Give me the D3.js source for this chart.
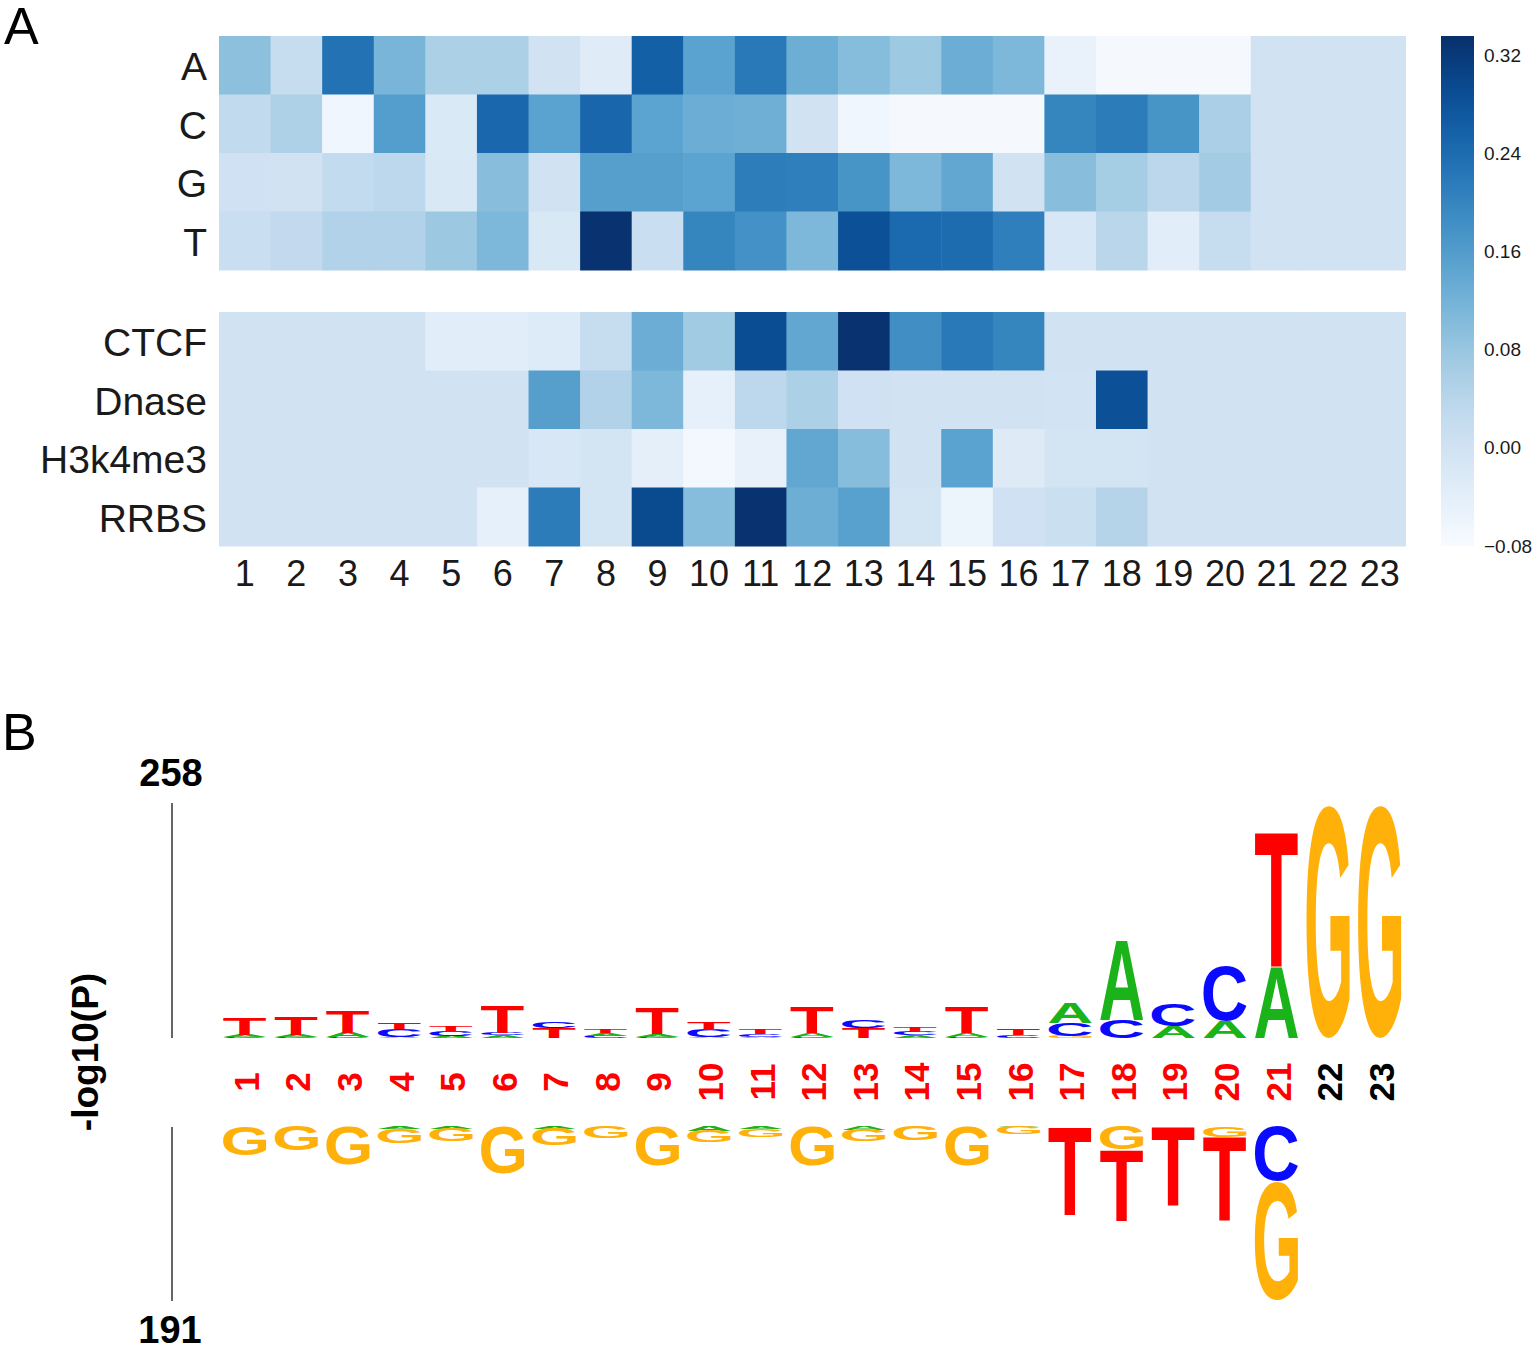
<!DOCTYPE html>
<html>
<head>
<meta charset="utf-8">
<script src="https://cdn.jsdelivr.net/npm/d3@7"></script>
<style>
    body { margin: 0; background: #fff; }
    svg text { font-family: "Liberation Sans", Arial, sans-serif; }
</style>
</head>
<body>
<svg id="chart"></svg>
<script>
    "use strict"
    const width = 1535;
    const height = 1351;

    // ---- panel A data ----
    const positions = d3.range(1, 24);
    const baseRows = ["A", "C", "G", "T"];
    const trackRows = ["CTCF", "Dnase", "H3k4me3", "RRBS"];

    const valsA = [0.094, 0.02, 0.23, 0.115, 0.057, 0.057, 0.0, -0.03, 0.26, 0.15, 0.22, 0.127, 0.1, 0.074, 0.13, 0.11, -0.05, -0.075, -0.075, -0.075, 0, 0, 0];
    const valsC = [0.028, 0.053, -0.065, 0.157, -0.02, 0.248, 0.15, 0.25, 0.148, 0.13, 0.125, 0, -0.065, -0.075, -0.075, -0.075, 0.2, 0.215, 0.175, 0.058, 0, 0, 0];
    const valsG = [0.003, 0.0, 0.024, 0.033, -0.018, 0.098, 0.0, 0.155, 0.155, 0.148, 0.213, 0.21, 0.175, 0.11, 0.14, 0, 0.098, 0.065, 0.035, 0.068, 0, 0, 0];
    const valsT = [0.015, 0.025, 0.05, 0.05, 0.076, 0.11, -0.018, 0.33, 0.015, 0.2, 0.18, 0.11, 0.283, 0.245, 0.24, 0.21, -0.015, 0.04, -0.035, 0.02, 0, 0, 0];
    const valsCTCF = [0, 0, 0, 0, -0.035, -0.033, -0.025, 0.02, 0.13, 0.07, 0.29, 0.14, 0.33, 0.185, 0.22, 0.2, 0, 0, 0, 0, 0, 0, 0];
    const valsDnase = [0, 0, 0, 0, 0, 0, 0.155, 0.05, 0.11, -0.045, 0.033, 0.057, 0.003, 0, 0, 0, -0.003, 0.285, 0, 0, 0, 0, 0];
    const valsH3k4me3 = [0, 0, 0, 0, 0, 0, -0.015, -0.005, -0.04, -0.07, -0.048, 0.14, 0.1, 0, 0.15, -0.028, -0.005, -0.005, 0, 0, 0, 0, 0];
    const valsRRBS = [0, 0, 0, 0, 0, -0.045, 0.215, -0.005, 0.295, 0.1, 0.33, 0.127, 0.152, -0.005, -0.06, 0.003, 0.012, 0.045, 0, 0, 0, 0, 0];

    const colorDomain = [-0.08, 0.3355];
    const colorTicks = [-0.08, 0.0, 0.08, 0.16, 0.24, 0.32];

    // ---- panel B data (-log10 P, stacked from the axis outward) ----
    const logoMaxUp = 258;
    const logoMaxDown = 191;
    const logoUp = [
        [["C", 1.5], ["A", 2], ["T", 19]],
        [["C", 1], ["A", 2], ["T", 20]],
        [["C", 1], ["A", 5], ["T", 24]],
        [["A", 1], ["C", 9], ["T", 7]],
        [["A", 2], ["C", 6], ["T", 6]],
        [["A", 3], ["C", 2], ["T", 30]],
        [["T", 11], ["C", 7]],
        [["C", 2], ["A", 3], ["T", 4]],
        [["C", 1], ["A", 3], ["T", 29]],
        [["A", 1], ["C", 8], ["T", 8]],
        [["A", 1], ["C", 3], ["T", 5]],
        [["C", 1], ["A", 4], ["T", 29]],
        [["T", 11], ["C", 8]],
        [["A", 3], ["C", 4], ["T", 5]],
        [["C", 1], ["A", 4], ["T", 29]],
        [["C", 2], ["A", 1], ["T", 7]],
        [["G", 2], ["C", 14], ["A", 22]],
        [["C", 20], ["A", 88]],
        [["A", 13], ["C", 25]],
        [["A", 19], ["C", 61]],
        [["A", 79], ["T", 148]],
        [["G", 255]],
        [["G", 255]]
    ];
    const logoDown = [
        [["G", 32]],
        [["G", 27]],
        [["G", 42]],
        [["A", 3], ["G", 16]],
        [["A", 3], ["G", 14]],
        [["G", 52]],
        [["A", 3], ["G", 18]],
        [["G", 13]],
        [["G", 43]],
        [["A", 5], ["G", 13]],
        [["A", 3], ["G", 9]],
        [["G", 43]],
        [["A", 4], ["G", 13]],
        [["G", 16]],
        [["G", 43]],
        [["A", 1], ["G", 8]],
        [["T", 97]],
        [["G", 26], ["T", 78]],
        [["T", 86]],
        [["G", 12], ["T", 92]],
        [["C", 60], ["G", 129]],
        [],
        []
    ];
    const fixedPositions = [22, 23];
    const baseColor = { A: "#1ab31a", C: "#0a0aff", G: "#ffb10a", T: "#ff0000" };

    const svg = d3.select("#chart")
        .attr("width", width)
        .attr("height", height);

    // ---------------- panel A ----------------
    const x = d3.scaleBand()
        .domain(positions)
        .range([219, 1405.5]);

    const yTop = d3.scaleBand()
        .domain(baseRows)
        .range([36, 270]);

    const yBottom = d3.scaleBand()
        .domain(trackRows)
        .range([312, 546]);

    const color = d3.scaleSequential(d3.interpolateBlues)
        .domain(colorDomain);

    const topData = [valsA, valsC, valsG, valsT];
    const bottomData = [valsCTCF, valsDnase, valsH3k4me3, valsRRBS];

    function drawBlock(rows, data, yScale) {
        const cells = [];
        rows.forEach((r, i) => positions.forEach((p, j) => cells.push({ row: r, pos: p, v: data[i][j] })));
        svg.append("g")
            .selectAll("rect")
            .data(cells)
            .join("rect")
            .attr("x", d => x(d.pos))
            .attr("y", d => yScale(d.row))
            .attr("width", x.bandwidth() + 0.5)
            .attr("height", yScale.bandwidth() + 0.5)
            .attr("fill", d => color(d.v));

        const ax = svg.append("g")
            .attr("transform", `translate(${x.range()[0]},0)`)
            .call(d3.axisLeft(yScale).tickSize(0).tickPadding(12));
        ax.select(".domain").remove();
        ax.selectAll("text")
            .attr("font-size", 39)
            .attr("dy", "0.38em")
            .attr("fill", "#1a1a1a")
            .attr("font-family", '"Liberation Sans", Arial, sans-serif');
    }

    drawBlock(baseRows, topData, yTop);
    drawBlock(trackRows, bottomData, yBottom);

    const xAx = svg.append("g")
        .attr("transform", `translate(0,${yBottom.range()[1]})`)
        .call(d3.axisBottom(x).tickSize(0).tickPadding(14));
    xAx.select(".domain").remove();
    xAx.selectAll("text")
        .attr("font-size", 36)
        .attr("fill", "#1a1a1a")
        .attr("font-family", '"Liberation Sans", Arial, sans-serif');

    // colour bar
    const cbY = d3.scaleLinear()
        .domain(colorDomain)
        .range([546, 36]);
    const defs = svg.append("defs");
    const grad = defs.append("linearGradient")
        .attr("id", "cbar")
        .attr("x1", 0).attr("y1", 1).attr("x2", 0).attr("y2", 0);
    d3.range(0, 1.0001, 0.05).forEach(t => {
        grad.append("stop")
            .attr("offset", t)
            .attr("stop-color", color(colorDomain[0] + t * (colorDomain[1] - colorDomain[0])));
    });
    svg.append("rect")
        .attr("x", 1441)
        .attr("y", cbY.range()[1])
        .attr("width", 33)
        .attr("height", cbY.range()[0] - cbY.range()[1])
        .attr("fill", "url(#cbar)");
    const cbAx = svg.append("g")
        .attr("transform", "translate(1474,0)")
        .call(d3.axisRight(cbY).tickValues(colorTicks).tickSize(0).tickPadding(10)
            .tickFormat(d => d3.format(".2f")(d).replace("-", "\u2212")));
    cbAx.select(".domain").remove();
    cbAx.selectAll("text")
        .attr("font-size", 19)
        .attr("fill", "#1a1a1a")
        .attr("font-family", '"Liberation Sans", Arial, sans-serif');

    svg.append("text")
        .attr("x", 4)
        .attr("y", 44)
        .attr("font-size", 52)
        .text("A");

    // ---------------- panel B ----------------
    svg.append("text")
        .attr("x", 2)
        .attr("y", 750)
        .attr("font-size", 52)
        .text("B");

    const yUp = d3.scaleLinear().domain([0, logoMaxUp]).range([1038, 803]);
    const yDown = d3.scaleLinear().domain([0, logoMaxDown]).range([1126, 1301]);

    svg.append("line")
        .attr("x1", 172).attr("x2", 172)
        .attr("y1", yUp(0)).attr("y2", yUp(logoMaxUp))
        .attr("stroke", "#666").attr("stroke-width", 2);
    svg.append("line")
        .attr("x1", 172).attr("x2", 172)
        .attr("y1", yDown(0) + 1).attr("y2", yDown(logoMaxDown))
        .attr("stroke", "#666").attr("stroke-width", 2);

    svg.append("text")
        .attr("x", 171).attr("y", 786)
        .attr("text-anchor", "middle")
        .attr("font-size", 38).attr("font-weight", "bold")
        .text(logoMaxUp);
    svg.append("text")
        .attr("x", 170).attr("y", 1343)
        .attr("text-anchor", "middle")
        .attr("font-size", 38).attr("font-weight", "bold")
        .text(logoMaxDown);
    svg.append("text")
        .attr("transform", "translate(98,1052) rotate(-90)")
        .attr("text-anchor", "middle")
        .attr("font-size", 37).attr("font-weight", "bold")
        .text("-log10(P)");

    // ink metrics of the letters, so each glyph can be stretched to fill its box
    const FS = 100;
    const ctx = document.createElement("canvas").getContext("2d");
    ctx.font = `bold ${FS}px "Liberation Sans", Arial, sans-serif`;
    const ink = {};
    ["A", "C", "G", "T"].forEach(ch => {
        const m = ctx.measureText(ch);
        ink[ch] = {
            l: -m.actualBoundingBoxLeft,
            r: m.actualBoundingBoxRight,
            a: m.actualBoundingBoxAscent,
            d: m.actualBoundingBoxDescent
        };
    });

    const letterW = x.bandwidth() * 0.84;
    const letters = [];
    positions.forEach((p, i) => {
        let acc = 0;
        logoUp[i].forEach(([ch, v]) => {
            letters.push({ ch, pos: p, y0: yUp(acc + v), y1: yUp(acc) });
            acc += v;
        });
        acc = 0;
        logoDown[i].forEach(([ch, v]) => {
            letters.push({ ch, pos: p, y0: yDown(acc), y1: yDown(acc + v) });
            acc += v;
        });
    });

    svg.append("g")
        .selectAll("text")
        .data(letters)
        .join("text")
        .attr("font-size", FS)
        .attr("font-weight", "bold")
        .attr("fill", d => baseColor[d.ch])
        .attr("transform", d => {
            const m = ink[d.ch];
            const sx = letterW / (m.r - m.l);
            const sy = (d.y1 - d.y0) / (m.a + m.d);
            const x0 = x(d.pos) + (x.bandwidth() - letterW) / 2;
            return `translate(${x0},${d.y0}) scale(${sx},${sy}) translate(${-m.l},${m.a})`;
        })
        .text(d => d.ch);

    svg.append("g")
        .selectAll("text")
        .data(positions)
        .join("text")
        .attr("transform", d => `translate(${x(d) + x.bandwidth() / 2 + 14},1082) rotate(-90)`)
        .attr("text-anchor", "middle")
        .attr("font-size", 35)
        .attr("font-weight", "bold")
        .attr("fill", d => fixedPositions.includes(d) ? "#000" : "#ff0000")
        .text(d => d);
</script>
</body>
</html>
